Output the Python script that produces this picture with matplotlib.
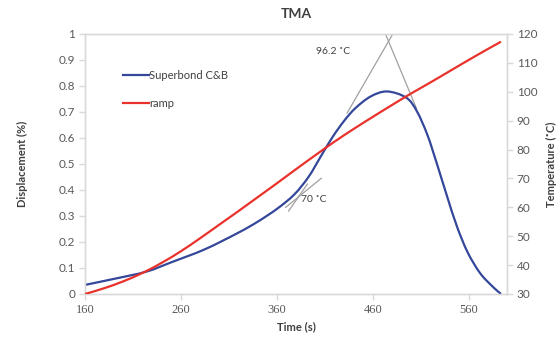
import matplotlib
matplotlib.use("Agg")
import matplotlib.pyplot as plt
import numpy as np
from matplotlib.ticker import FixedLocator
from matplotlib.path import Path
from matplotlib.patches import PathPatch
from matplotlib.lines import Line2D

# ---- data ----
blue_time = [160, 190, 224, 250, 285, 320, 340, 360, 378, 393, 406, 418, 430, 442,
             458, 475, 495, 506, 517, 527, 538, 548, 559, 572, 586, 593]
blue_disp = [0.035, 0.058, 0.086, 0.122, 0.172, 0.236, 0.278, 0.327, 0.382, 0.450,
             0.530, 0.603, 0.665, 0.715, 0.760, 0.779, 0.755, 0.703, 0.612, 0.500,
             0.370, 0.258, 0.160, 0.080, 0.025, 0.003]

ramp_time = [160, 180, 200, 220, 240, 260, 280, 300, 320, 340, 360, 380, 400, 420,
             440, 460, 480, 500, 520, 540, 560, 580, 593]
ramp_temp = [30, 32.0, 34.4, 37.3, 40.8, 44.8, 49.3, 54.0, 58.7, 63.5, 68.3, 73.2,
             78.0, 82.7, 87.1, 91.3, 95.4, 99.4, 103.2, 107.1, 111.0, 114.8, 117.2]

tan_low1_time = [369.2, 406.3]
tan_low1_disp = [0.333, 0.445]
tan_low2_time = [372.3, 391.9]
tan_low2_disp = [0.319, 0.423]
tan_up_time = [433.3, 480.9]
tan_up_disp = [0.696, 1.0]
tan_down_time = [473.3, 505.7]
tan_down_disp = [1.0, 0.713]

x_ticks = [160, 260, 360, 460, 560]
left_ticks = [0, 0.1, 0.2, 0.3, 0.4, 0.5, 0.6, 0.7, 0.8, 0.9, 1]
left_labels = ["0", "0.1", "0.2", "0.3", "0.4", "0.5", "0.6", "0.7", "0.8", "0.9", "1"]
right_ticks = [30, 40, 50, 60, 70, 80, 90, 100, 110, 120]


def smooth_path(xs, ys):
    """Excel-style smoothed line: cubic Bezier through every data point."""
    p = np.column_stack([xs, ys]).astype(float)
    n = len(p)
    verts = [p[0]]
    codes = [Path.MOVETO]
    for i in range(n - 1):
        p0 = p[i - 1] if i > 0 else p[i]
        p1 = p[i]
        p2 = p[i + 1]
        p3 = p[i + 2] if i + 2 < n else p[i + 1]
        c1 = p1 + (p2 - p0) / 6.0
        c2 = p2 - (p3 - p1) / 6.0
        verts += [c1, c2, p2]
        codes += [Path.CURVE4] * 3
    return Path(verts, codes)


# ---- figure ----
fig = plt.figure(figsize=(5.59, 3.37), dpi=100)
ax = fig.add_axes([85/559, 1-294/337, (507-85)/559, (294-34)/337])
ax2 = ax.twinx()

blue = "#34479a"
red = "#e8322b"
tangent_col = "#a0a0a0"
spine_col = "#d9d9d9"
txt_col = "#595959"
lab_col = "#404040"

ax.add_patch(PathPatch(smooth_path(blue_time, blue_disp), fill=False,
                       edgecolor=blue, lw=1.6, zorder=3, capstyle="round"))
for tt, dd in [(tan_low1_time, tan_low1_disp), (tan_low2_time, tan_low2_disp),
               (tan_up_time, tan_up_disp), (tan_down_time, tan_down_disp)]:
    ax.plot(tt, dd, color=tangent_col, lw=0.9, zorder=2)
ax2.add_patch(PathPatch(smooth_path(ramp_time, ramp_temp), fill=False,
                        edgecolor=red, lw=1.6, zorder=3, capstyle="round"))

ax.set_xlim(160, 600)
ax.set_ylim(0, 1)
ax2.set_ylim(30, 120)

ax.xaxis.set_major_locator(FixedLocator(x_ticks))
ax.set_yticks(left_ticks)
ax.set_yticklabels(left_labels)
ax2.set_yticks(right_ticks)

for a in (ax, ax2):
    for s in a.spines.values():
        s.set_color(spine_col)
        s.set_linewidth(1.0)
    a.tick_params(colors=spine_col, length=4, width=1.0)

ax.tick_params(axis='y', labelcolor=txt_col, labelsize=8.5, pad=3)
ax2.tick_params(axis='y', labelcolor=txt_col, labelsize=8.5, pad=3)
ax.tick_params(axis='x', labelcolor=txt_col, labelsize=8.5, pad=3)
for lab in ax.get_xticklabels():
    lab.set_fontfamily("Liberation Serif")
    lab.set_fontsize(9)
for lab in ax.get_yticklabels() + ax2.get_yticklabels():
    lab.set_fontfamily("Lato")

ax.set_xlabel("Time (s)", fontsize=8, fontweight="bold", color=lab_col,
              fontfamily="Lato", labelpad=4)
ax.set_ylabel("Displacement (%)", fontsize=8, fontweight="bold", color=lab_col,
              fontfamily="Lato", labelpad=22)
ax2.set_ylabel("Temperature (˚C)", fontsize=8, fontweight="bold", color=lab_col,
               fontfamily="Lato", labelpad=6)
fig.text(296/559, 1-14/337, "TMA", ha="center", va="center", fontsize=10,
         fontweight="bold", color=lab_col, fontfamily="Lato")

ax.text(301/559, 1-200/337, "70 ˚C", transform=fig.transFigure, fontsize=7.5,
        color=lab_col, fontfamily="Lato", va="center", ha="left")
ax.text(316/559, 1-51/337, "96.2 ˚C", transform=fig.transFigure, fontsize=7.5,
        color=lab_col, fontfamily="Lato", va="center", ha="left")

h1 = Line2D([], [], color=blue, lw=1.6)
h2 = Line2D([], [], color=red, lw=1.6)
leg = ax2.legend([h1, h2], ["Superbond C&B", "ramp"], loc="upper left",
                 bbox_to_anchor=(113/559, 1-60/337), bbox_transform=fig.transFigure,
                 frameon=False, handlelength=2.3, handletextpad=0.05,
                 labelspacing=1.55, prop={"family": "Lato", "size": 8})
for t in leg.get_texts():
    t.set_color(lab_col)

fig.savefig("out.png", dpi=100)
